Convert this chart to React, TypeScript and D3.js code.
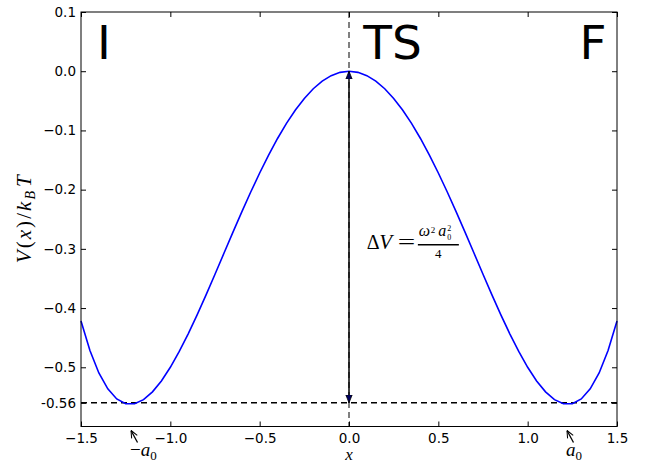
import { useEffect, useRef } from "react";
import * as d3 from "d3";

// positions along the reaction coordinate
const xValues = [
  -1.5, -1.45, -1.4, -1.35, -1.3, -1.25, -1.2, -1.15, -1.1, -1.05,
  -1.0, -0.95, -0.9, -0.85, -0.8, -0.75, -0.7, -0.65, -0.6, -0.55,
  -0.5, -0.45, -0.4, -0.35, -0.3, -0.25, -0.2, -0.15, -0.1, -0.05,
  0.0, 0.05, 0.1, 0.15, 0.2, 0.25, 0.3, 0.35, 0.4, 0.45,
  0.5, 0.55, 0.6, 0.65, 0.7, 0.75, 0.8, 0.85, 0.9, 0.95,
  1.0, 1.05, 1.1, 1.15, 1.2, 1.25, 1.3, 1.35, 1.4, 1.45, 1.5,
];

// V(x)/kBT
const potential = [
  -0.4219, -0.4717, -0.5096, -0.5365, -0.5535, -0.5615, -0.5616, -0.5546, -0.5415, -0.523,
  -0.5, -0.4732, -0.4435, -0.4114, -0.3776, -0.3428, -0.3075, -0.2722, -0.2376, -0.204,
  -0.1719, -0.1416, -0.1136, -0.0881, -0.0655, -0.0459, -0.0296, -0.0167, -0.0075, -0.0019,
  0.0, -0.0019, -0.0075, -0.0167, -0.0296, -0.0459, -0.0655, -0.0881, -0.1136, -0.1416,
  -0.1719, -0.204, -0.2376, -0.2722, -0.3075, -0.3428, -0.3776, -0.4114, -0.4435, -0.4732,
  -0.5, -0.523, -0.5415, -0.5546, -0.5616, -0.5615, -0.5535, -0.5365, -0.5096, -0.4717, -0.4219,
];

const xTicks = [-1.5, -1.0, -0.5, 0.0, 0.5, 1.0, 1.5];
const xTickLabels = ["\u22121.5", "\u22121.0", "\u22120.5", "0.0", "0.5", "1.0", "1.5"];
const yTicks = [0.1, 0.0, -0.1, -0.2, -0.3, -0.4, -0.5, -0.56];
const yTickLabels = ["0.1", "0.0", "\u22120.1", "\u22120.2", "\u22120.3", "\u22120.4", "\u22120.5", "-0.56"];

const wellMin = -0.56;
const a0 = 1.22;
const regions = [
  { label: "I", x: -1.41 },
  { label: "TS", x: 0.08 },
  { label: "F", x: 1.29 },
];

const App = () => {
  const ref = useRef<SVGSVGElement>(null);

  useEffect(() => {
    const width = 645, height = 464;
    const margin = { top: 12, right: 28, bottom: 37.5, left: 81 };
    const svg = d3.select(ref.current);
    svg.selectAll("*").remove();

    const x = d3.scaleLinear().domain([-1.5, 1.5]).range([margin.left, width - margin.right]);
    const y = d3.scaleLinear().domain([-0.6, 0.1]).range([height - margin.bottom, margin.top]);

    const sans = "'DejaVu Sans', sans-serif";
    const serif = "'Liberation Serif', 'DejaVu Serif', serif";

    const defs = svg.append("defs");
    defs.append("marker")
      .attr("id", "head")
      .attr("viewBox", "0 0 10 10")
      .attr("refX", 10).attr("refY", 5)
      .attr("markerWidth", 8).attr("markerHeight", 8)
      .attr("markerUnits", "userSpaceOnUse")
      .attr("orient", "auto-start-reverse")
      .append("path")
      .attr("d", "M0,1 L10,5 L0,9 Z")
      .attr("fill", "#000060")
      .attr("stroke", "#000")
      .attr("stroke-width", 1);
    defs.append("marker")
      .attr("id", "open")
      .attr("viewBox", "0 0 10 10")
      .attr("refX", 10).attr("refY", 5)
      .attr("markerWidth", 8).attr("markerHeight", 8)
      .attr("markerUnits", "userSpaceOnUse")
      .attr("orient", "auto")
      .append("path")
      .attr("d", "M1,1 L10,5 L1,9")
      .attr("fill", "none")
      .attr("stroke", "#000")
      .attr("stroke-width", 1.3);

    // dashed guides
    svg.append("line")
      .attr("x1", x(0)).attr("x2", x(0))
      .attr("y1", y(0.1)).attr("y2", y(-0.6))
      .attr("stroke", "#000").attr("stroke-width", 1)
      .attr("stroke-dasharray", "6,4");
    svg.append("line")
      .attr("x1", x(-1.5)).attr("x2", x(1.5))
      .attr("y1", y(wellMin)).attr("y2", y(wellMin))
      .attr("stroke", "#000").attr("stroke-width", 1.5)
      .attr("stroke-dasharray", "6,4");

    // potential curve
    const line = d3.line<number>()
      .x((d, i) => x(xValues[i]))
      .y(d => y(d));
    svg.append("path")
      .datum(potential)
      .attr("fill", "none")
      .attr("stroke", "#0000ff")
      .attr("stroke-width", 1.6)
      .attr("d", line);

    // barrier arrow
    svg.append("line")
      .attr("x1", x(0)).attr("x2", x(0))
      .attr("y1", y(wellMin)).attr("y2", y(0))
      .attr("stroke", "#000").attr("stroke-width", 1.5)
      .attr("marker-start", "url(#head)")
      .attr("marker-end", "url(#head)");

    // axes, ticks pointing inward
    const fmtX = (d: number) => xTickLabels[xTicks.indexOf(d)];
    const fmtY = (d: number) => yTickLabels[yTicks.indexOf(d)];

    const bottom = svg.append("g")
      .attr("transform", `translate(0,${y(-0.6)})`)
      .call(d3.axisBottom(x).tickValues(xTicks).tickFormat(fmtX as any).tickSizeInner(-5).tickSizeOuter(0).tickPadding(6.5));
    const left = svg.append("g")
      .attr("transform", `translate(${x(-1.5)},0)`)
      .call(d3.axisLeft(y).tickValues(yTicks).tickFormat(fmtY as any).tickSizeInner(-5).tickSizeOuter(0).tickPadding(5));
    const top = svg.append("g")
      .attr("transform", `translate(0,${y(0.1)})`)
      .call(d3.axisTop(x).tickValues(xTicks).tickFormat(() => "").tickSizeInner(-5).tickSizeOuter(0));
    const right = svg.append("g")
      .attr("transform", `translate(${x(1.5)},0)`)
      .call(d3.axisRight(y).tickValues(yTicks).tickFormat(() => "").tickSizeInner(-5).tickSizeOuter(0));

    [bottom, left, top, right].forEach(g => {
      g.select(".domain").remove();
      g.selectAll("line").attr("stroke", "#000").attr("stroke-width", 1);
      g.selectAll("text").attr("font-family", sans).attr("font-size", 13.5).attr("fill", "#000");
    });

    svg.append("rect")
      .attr("x", x(-1.5)).attr("y", y(0.1))
      .attr("width", x(1.5) - x(-1.5)).attr("height", y(-0.6) - y(0.1))
      .attr("fill", "none").attr("stroke", "#000").attr("stroke-width", 1);

    // region letters
    svg.selectAll(".region")
      .data(regions)
      .join("text")
      .attr("x", d => x(d.x))
      .attr("y", y(0.02))
      .attr("font-family", sans)
      .attr("font-size", 47)
      .text(d => d.label);

    // barrier height label
    const lx = x(0.1), ly = y(-0.3);
    const math = (tx: number, ty: number, size: number, txt: string, italic = false) =>
      svg.append("text")
        .attr("x", tx).attr("y", ty)
        .attr("font-family", serif).attr("font-size", size)
        .attr("font-style", italic ? "italic" : "normal")
        .text(txt);
    math(lx, ly, 20, "\u0394");
    math(lx + 12.5, ly, 21, "V", true);
    svg.append("text")
      .attr("transform", `translate(${lx + 31},${ly}) scale(1.55,1)`)
      .attr("font-family", serif).attr("font-size", 20)
      .text("=");
    svg.append("line")
      .attr("x1", lx + 51).attr("x2", lx + 92)
      .attr("y1", ly - 4).attr("y2", ly - 4)
      .attr("stroke", "#000").attr("stroke-width", 1.5);
    math(lx + 52, ly - 13, 16, "\u03c9", true);
    math(lx + 64, ly - 16, 9, "2");
    math(lx + 71.5, ly - 13, 16, "a", true);
    math(lx + 80.5, ly - 17.5, 8, "2");
    math(lx + 80.5, ly - 8.5, 8, "0");
    svg.append("text")
      .attr("x", lx + 71.5).attr("y", ly + 9.5)
      .attr("text-anchor", "middle")
      .attr("font-family", serif).attr("font-size", 13)
      .text("4");

    // well minimum annotations
    [-a0, a0].forEach(v => {
      const hx = x(v), hy = y(-0.6) + 4;
      svg.append("line")
        .attr("x1", hx + 6.5).attr("y1", hy + 12)
        .attr("x2", hx).attr("y2", hy)
        .attr("stroke", "#000").attr("stroke-width", 1.3)
        .attr("marker-end", "url(#open)");
      const t = svg.append("text")
        .attr("x", hx - 1).attr("y", hy + 25)
        .attr("font-family", serif).attr("font-size", 19);
      if (v < 0) t.append("tspan").text("\u2212");
      t.append("tspan").attr("font-style", "italic").text("a");
      t.append("tspan").attr("font-size", 13).attr("dy", 4).text("0");
    });

    // axis labels
    svg.append("text")
      .attr("x", x(0)).attr("y", y(-0.6) + 33)
      .attr("text-anchor", "middle")
      .attr("font-family", serif).attr("font-size", 17).attr("font-style", "italic")
      .text("x");
    const yl = svg.append("text")
      .attr("transform", `translate(31,${(y(0.1) + y(-0.6)) / 2}) rotate(-90)`)
      .attr("text-anchor", "middle")
      .attr("font-family", serif).attr("font-size", 21)
      .attr("textLength", 88)
      .attr("lengthAdjust", "spacing");
    yl.append("tspan").attr("font-style", "italic").text("V");
    yl.append("tspan").text("(");
    yl.append("tspan").attr("font-style", "italic").text("x");
    yl.append("tspan").text(")/");
    yl.append("tspan").attr("font-style", "italic").text("k");
    yl.append("tspan").attr("font-style", "italic").attr("font-size", 14).attr("dy", 4).text("B");
    yl.append("tspan").attr("font-style", "italic").attr("dy", -4).attr("dx", 2).text("T");
  }, []);

  return (
    <svg
      ref={ref}
      width={645}
      height={464}
      style={{ position: "absolute", left: 0, top: 0, background: "#fff" }}
    />
  );
};

export default App;
